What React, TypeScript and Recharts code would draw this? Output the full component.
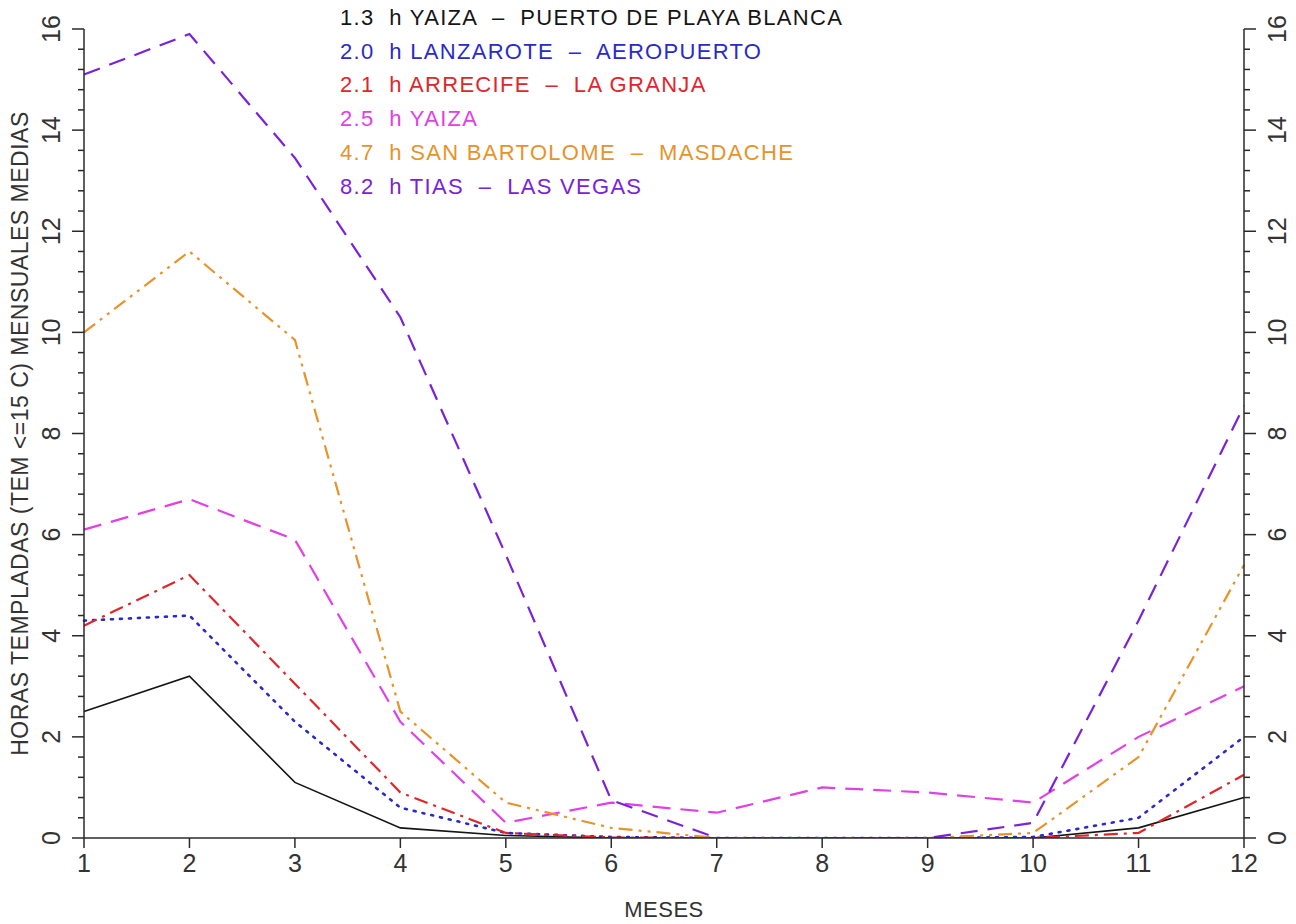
import React from 'react';
import { LineChart, Line, XAxis, YAxis, Legend } from 'recharts';

// months on the x axis
const months = [1, 2, 3, 4, 5, 6, 7, 8, 9, 10, 11, 12];

// mean monthly hours with temperature <= 15 C, per station
const playaBlanca = [2.5, 3.2, 1.1, 0.2, 0.05, 0, 0, 0, 0, 0, 0.2, 0.8];
const aeropuerto = [4.3, 4.4, 2.3, 0.6, 0.1, 0.02, 0, 0, 0, 0.02, 0.4, 2.0];
const laGranja = [4.2, 5.2, 3.05, 0.9, 0.1, 0.01, 0, 0, 0, 0, 0.1, 1.25];
const yaiza = [6.1, 6.7, 5.9, 2.3, 0.3, 0.7, 0.5, 1.0, 0.9, 0.7, 2.0, 3.0];
const masdache = [10.0, 11.6, 9.85, 2.5, 0.7, 0.2, 0, 0, 0, 0.1, 1.6, 5.4];
const lasVegas = [15.1, 15.9, 13.45, 10.3, 5.6, 0.75, 0, 0, 0, 0.3, 4.3, 8.55];

// yearly totals shown in the legend
const annualHours = ['1.3', '2.0', '2.1', '2.5', '4.7', '8.2'];
const stationNames = [
  'YAIZA  \u2013  PUERTO DE PLAYA BLANCA',
  'LANZAROTE  \u2013  AEROPUERTO',
  'ARRECIFE  \u2013  LA GRANJA',
  'YAIZA',
  'SAN BARTOLOME  \u2013  MASDACHE',
  'TIAS  \u2013  LAS VEGAS',
];

// y ticks every 0.4, labelled every 2
const yTicks = Array.from({ length: 41 }, (_, i) => Math.round(i * 4) / 10);
const xTicks = months;

const data = months.map((m, i) => ({
  mes: m,
  playaBlanca: playaBlanca[i],
  aeropuerto: aeropuerto[i],
  laGranja: laGranja[i],
  yaiza: yaiza[i],
  masdache: masdache[i],
  lasVegas: lasVegas[i],
}));

const series = [
  { key: 'playaBlanca', color: '#151515', dash: undefined, width: 1.6 },
  { key: 'aeropuerto', color: '#2a2ac8', dash: '2 7', width: 2.6 },
  { key: 'laGranja', color: '#e0262a', dash: '14 6 3 6', width: 2.2 },
  { key: 'yaiza', color: '#e040e6', dash: '18 10', width: 2.2 },
  { key: 'masdache', color: '#e8932a', dash: '14 6 3 6 3 6', width: 2.2 },
  { key: 'lasVegas', color: '#7a22d8', dash: '17 10', width: 2.2 },
];

const FONT = '"Liberation Sans", Arial, sans-serif';
const AXIS = '#2a2a2a';

const isMajor = (v: number) => Math.abs(v / 2 - Math.round(v / 2)) < 1e-6;

const LeftTick = (props: any) => {
  const { x, y, payload } = props;
  const major = isMajor(payload.value);
  const lx = x - 33;
  return (
    <g>
      <line x1={x} x2={x - (major ? 12 : 6)} y1={y} y2={y} stroke={AXIS} strokeWidth={1.5} />
      {major && (
        <text
          x={lx}
          y={y}
          transform={`rotate(-90 ${lx} ${y})`}
          textAnchor="middle"
          dominantBaseline="central"
          fontSize={25}
          fontFamily={FONT}
          fill="#333"
        >
          {payload.value}
        </text>
      )}
    </g>
  );
};

const RightTick = (props: any) => {
  const { x, y, payload } = props;
  const major = isMajor(payload.value);
  const lx = x + 33;
  return (
    <g>
      <line x1={x} x2={x + (major ? 12 : 6)} y1={y} y2={y} stroke={AXIS} strokeWidth={1.5} />
      {major && (
        <text
          x={lx}
          y={y}
          transform={`rotate(-90 ${lx} ${y})`}
          textAnchor="middle"
          dominantBaseline="central"
          fontSize={25}
          fontFamily={FONT}
          fill="#333"
        >
          {payload.value}
        </text>
      )}
    </g>
  );
};

const renderLegend = () => (
  <div
    style={{
      fontFamily: FONT,
      fontSize: 22,
      letterSpacing: 1.3,
      lineHeight: '33.7px',
      whiteSpace: 'pre',
    }}
  >
    {stationNames.map((name, i) => (
      <div key={name} style={{ color: series[i].color }}>
        {annualHours[i]}  h {name}
      </div>
    ))}
  </div>
);

export default function App() {
  return (
    <div style={{ position: 'absolute', left: 0, top: 0, background: '#fff' }}>
      <LineChart
        width={1296}
        height={924}
        data={data}
        margin={{ top: 29, right: 0, bottom: 0, left: 0 }}
      >
        <XAxis
          dataKey="mes"
          type="number"
          domain={[1, 12]}
          ticks={xTicks}
          interval={0}
          height={86}
          tickSize={10}
          tickMargin={6}
          stroke={AXIS}
          strokeWidth={1.5}
          tick={{ fontSize: 25, fontFamily: FONT, fill: '#333' }}
          label={{
            value: 'MESES',
            position: 'insideBottom',
            offset: 7,
            style: { fontSize: 22, fontFamily: FONT, fill: '#333', letterSpacing: 0.5 },
          }}
        />
        <YAxis
          yAxisId="left"
          orientation="left"
          width={84}
          domain={[0, 16]}
          ticks={yTicks}
          interval={0}
          tickSize={0}
          tickMargin={0}
          tickLine={false}
          tick={<LeftTick />}
          stroke={AXIS}
          strokeWidth={1.5}
          allowDataOverflow
          label={{
            value: 'HORAS TEMPLADAS (TEM <=15 C) MENSUALES MEDIAS',
            angle: -90,
            position: 'insideLeft',
            offset: 20,
            style: {
              textAnchor: 'middle',
              fontSize: 23,
              fontFamily: FONT,
              fill: '#333',
              letterSpacing: 0.5,
            },
          }}
        />
        <YAxis
          yAxisId="right"
          orientation="right"
          width={52}
          domain={[0, 16]}
          ticks={yTicks}
          interval={0}
          tickSize={0}
          tickMargin={0}
          tickLine={false}
          tick={<RightTick />}
          stroke={AXIS}
          strokeWidth={1.5}
          allowDataOverflow
        />
        <Legend
          layout="vertical"
          align="center"
          verticalAlign="middle"
          content={renderLegend}
          wrapperStyle={{ position: 'absolute', top: 1, left: 340, width: 'auto', height: 'auto' }}
        />
        {series.map((s, i) => (
          <Line
            key={s.key}
            yAxisId="left"
            type="linear"
            dataKey={s.key}
            name={stationNames[i]}
            stroke={s.color}
            strokeWidth={s.width}
            strokeDasharray={s.dash}
            strokeLinecap={s.key === 'aeropuerto' ? 'round' : 'butt'}
            dot={false}
            activeDot={false}
            isAnimationActive={false}
          />
        ))}
      </LineChart>
    </div>
  );
}
